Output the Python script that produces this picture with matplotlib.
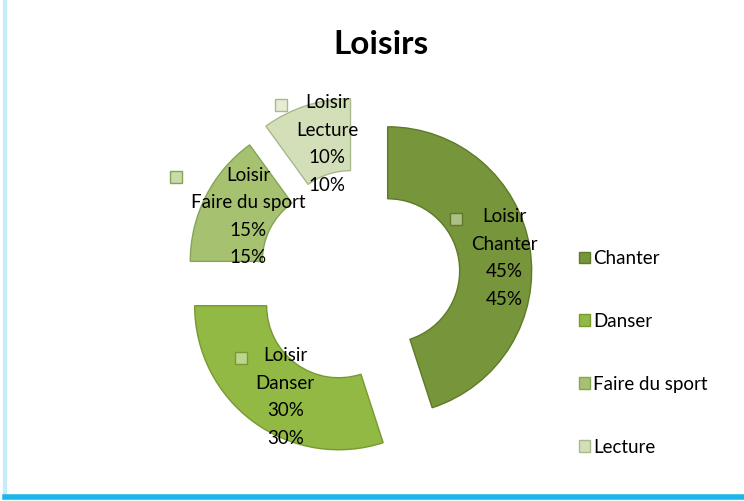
import numpy as np
import matplotlib.pyplot as plt
import matplotlib.colors as mcolors
from matplotlib.patches import Patch
from matplotlib.lines import Line2D

plt.rcParams['font.family'] = ['Lato', 'DejaVu Sans']

# data
loisirs = ["Chanter", "Danser", "Faire du sport", "Lecture"]
parts = [45, 30, 15, 10]
pct_labels = ["45%", "30%", "15%", "10%"]

colors = ["#77953A", "#92B944", "#A6C271", "#D3DFB8"]
edge_colors = ["#5E7A28", "#769A30", "#86A455", "#A9B98E"]
explode_px = [27, 38, 30, 34]


def lighter(c, f=0.4):
    r = np.array(mcolors.to_rgb(c))
    return tuple(r + (1 - r) * f)


W, H = 744, 501
fig = plt.figure(figsize=(W / 100, H / 100), dpi=100)
ax = fig.add_axes([0, 0, 1, 1])

R = 144
cx, cy = 361, 226

# pie's explode is an absolute offset in data units
wedges, _ = ax.pie(parts, explode=explode_px, startangle=90,
                   counterclock=False, radius=R, center=(cx, cy), colors=colors,
                   wedgeprops=dict(width=R * 0.5, linewidth=1.0), frame=False)
for w, ec in zip(wedges, edge_colors):
    w.set_edgecolor(ec)

ax.set_xlim(0, W)
ax.set_ylim(0, H)
ax.set_aspect('equal')
ax.axis('off')

# data labels inside the wedges, with a small legend key
texts = []
for w, name, pct in zip(wedges, loisirs, pct_labels):
    mid = np.deg2rad((w.theta1 + w.theta2) / 2)
    rm = w.r - w.width / 2
    x = w.center[0] + rm * np.cos(mid) + 10
    y = w.center[1] + rm * np.sin(mid) - 4
    t = ax.text(x, y, "Loisir\n" + name + "\n" + pct + "\n" + pct,
                ha='center', va='center', fontsize=13.5, linespacing=1.75,
                zorder=5)
    texts.append(t)

fig.canvas.draw()
inv = ax.transData.inverted()
for t, c, ec in zip(texts, colors, edge_colors):
    bb = t.get_window_extent()
    x0, y1 = inv.transform((bb.x0, bb.y1))
    line_h = bb.height / 4
    ax.plot([x0 - 15], [y1 - line_h / 2 + 2], linestyle='none', marker='s',
            markersize=8, markerfacecolor=lighter(c), markeredgecolor=ec,
            markeredgewidth=1.0, zorder=6)

# title
fig.text(381 / W, 1 - 44 / H, "Loisirs", ha='center', va='center',
         fontsize=24, fontweight='bold')

# legend
handles = [Patch(facecolor=c, edgecolor=ec) for c, ec in zip(colors, edge_colors)]
fig.legend(handles, loisirs, loc='center left', bbox_to_anchor=(562 / W, 1 - 353 / H),
           frameon=False, fontsize=13.5, labelspacing=2.45, handlelength=0.6,
           handleheight=0.6, handletextpad=0.15)

# frame lines (left and bottom)
fig.add_artist(Line2D([5 / W, 5 / W], [4 / H, 1], transform=fig.transFigure,
                      color="#C4ECFA", linewidth=3))
fig.add_artist(Line2D([5 / W, 1], [4 / H, 4 / H], transform=fig.transFigure,
                      color="#1EB6EA", linewidth=4))

fig.savefig("out.png", dpi=100)
